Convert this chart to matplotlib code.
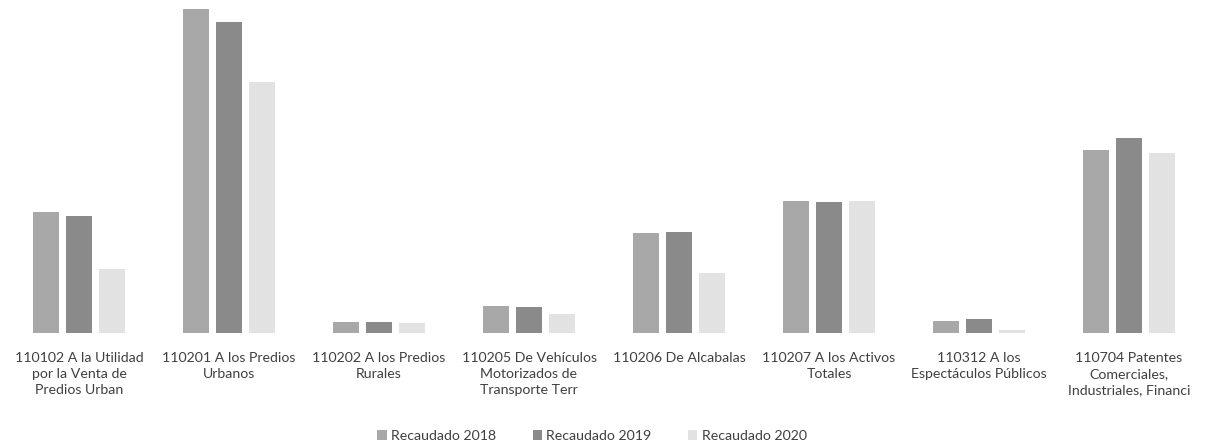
import matplotlib
matplotlib.use("Agg")
import matplotlib.pyplot as plt
import numpy as np

categories = [
    "110102 A la Utilidad\npor la Venta de\nPredios Urban",
    "110201 A los Predios\nUrbanos",
    "110202 A los Predios\nRurales",
    "110205 De Vehículos\nMotorizados de\nTransporte Terr",
    "110206 De Alcabalas",
    "110207 A los Activos\nTotales",
    "110312 A los\nEspectáculos Públicos",
    "110704 Patentes\nComerciales,\nIndustriales, Financi",
]
series_names = ["Recaudado 2018", "Recaudado 2019", "Recaudado 2020"]
recaudado_2018 = [121, 324, 11, 27, 100, 132, 12, 183]
recaudado_2019 = [117, 311, 11, 26, 101, 131, 14, 195]
recaudado_2020 = [64, 251, 10, 19, 60, 132, 3, 180]

colors = ["#a8a8a8", "#8a8a8a", "#e2e2e2"]

plt.rcParams['font.family'] = ['Lato', 'DejaVu Sans']

W, H = 1207, 443
fig = plt.figure(figsize=(W / 100, H / 100), dpi=100)
ax = fig.add_axes([4 / W, (H - 333) / H, 1200 / W, 328 / H])

x = np.arange(len(categories))
bw = 0.167
step = 0.22
for i, (vals, name, c) in enumerate(zip([recaudado_2018, recaudado_2019, recaudado_2020], series_names, colors)):
    ax.bar(x + (i - 1) * step, vals, width=bw, color=c, label=name)

ax.set_xlim(-0.5, len(categories) - 0.5)
ax.set_ylim(0, 328)
ax.set_xticks(x)
ax.set_xticklabels(categories, fontsize=10.2, color="#404040", linespacing=1.38)
ax.tick_params(axis='x', length=0, pad=14)
ax.set_yticks([])
for s in ax.spines.values():
    s.set_visible(False)

fig.legend(loc="center", bbox_to_anchor=(592 / W, 1 - 436 / H), ncol=3, frameon=False,
           fontsize=10.2, labelcolor="#404040", handlelength=0.65, handleheight=0.65,
           handletextpad=0.3, columnspacing=2.6)

fig.savefig("out.png", dpi=100)
